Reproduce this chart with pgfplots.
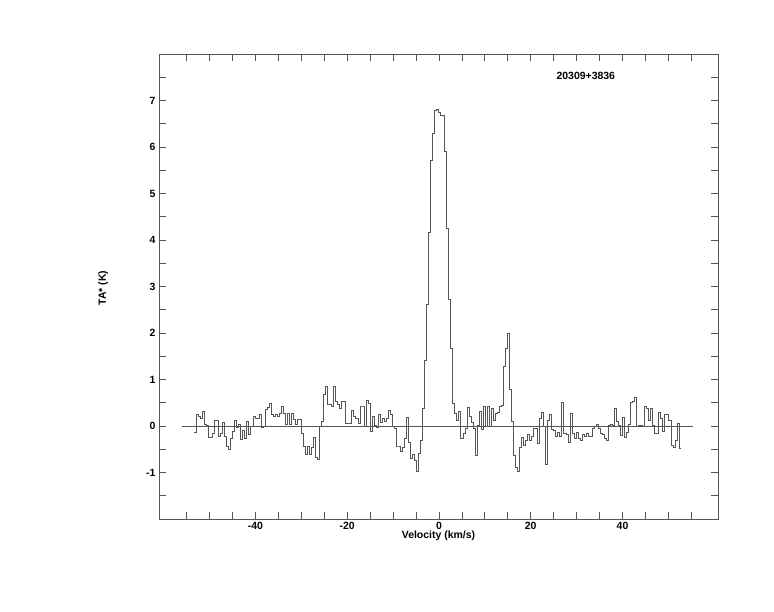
\documentclass[border=0pt]{standalone}
\usepackage{fontspec}
\setmainfont{Liberation Sans}
\usepackage{pgfplots}
\pgfplotsset{compat=1.18}
\definecolor{ink}{RGB}{85,85,85}

\pgfplotstableread{
x y
-53.30 -0.14
-52.86 0.25
-52.42 0.20
-51.98 0.17
-51.54 0.32
-51.10 0.04
-50.66 0.02
-50.22 -0.24
-49.78 -0.24
-49.34 -0.16
-48.90 0.12
-48.46 0.12
-48.02 -0.23
-47.58 -0.16
-47.14 0.08
-46.70 -0.23
-46.26 -0.43
-45.82 -0.50
-45.38 -0.27
-44.94 -0.11
-44.50 0.12
-44.06 -0.03
-43.62 0.04
-43.18 -0.28
-42.74 -0.09
-42.30 -0.27
-41.86 0.09
-41.42 -0.18
-40.98 -0.01
-40.54 0.21
-40.10 0.17
-39.66 0.16
-39.22 0.25
-38.78 -0.04
-38.34 -0.01
-37.90 0.35
-37.46 0.40
-37.02 0.48
-36.58 0.25
-36.14 0.20
-35.70 0.24
-35.26 0.20
-34.82 0.28
-34.38 0.42
-33.94 0.28
-33.50 0.04
-33.06 0.28
-32.62 0.04
-32.18 0.28
-31.74 0.15
-31.30 0.04
-30.86 0.15
-30.42 0.15
-29.98 -0.16
-29.54 -0.43
-29.10 -0.61
-28.66 -0.43
-28.22 -0.61
-27.78 -0.45
-27.34 -0.25
-26.90 -0.68
-26.46 -0.72
-26.02 -0.01
-25.58 0.09
-25.14 0.69
-24.70 0.86
-24.26 0.47
-23.82 0.47
-23.38 0.42
-22.94 0.86
-22.50 0.52
-22.06 0.47
-21.62 0.37
-21.18 0.52
-20.74 0.52
-20.30 0.06
-19.86 0.05
-19.42 0.05
-18.98 0.33
-18.54 0.20
-18.10 0.17
-17.66 0.06
-17.22 0.43
-16.78 0.43
-16.34 -0.01
-15.90 0.56
-15.46 0.49
-15.02 -0.12
-14.58 0.20
-14.14 0.02
-13.70 -0.03
-13.26 0.24
-12.82 0.07
-12.38 0.17
-11.94 0.09
-11.50 0.17
-11.06 0.33
-10.62 0.24
-10.18 0.00
-9.74 -0.05
-9.30 -0.43
-8.86 -0.43
-8.42 -0.55
-7.98 -0.45
-7.54 -0.27
-7.10 0.18
-6.66 -0.35
-6.22 -0.70
-5.78 -0.62
-5.34 -0.75
-4.90 -0.98
-4.46 -0.59
-4.02 -0.30
-3.58 0.38
-3.14 1.42
-2.70 2.62
-2.26 4.17
-1.82 5.72
-1.38 6.29
-0.94 6.79
-0.50 6.81
-0.06 6.74
0.38 6.69
0.82 6.67
1.26 5.90
1.70 4.24
2.14 2.72
2.58 1.67
3.02 0.49
3.46 0.27
3.90 0.13
4.34 0.31
4.78 -0.27
5.22 -0.16
5.66 -0.05
6.10 0.40
6.54 0.20
6.98 0.07
7.42 -0.06
7.86 -0.63
8.30 0.02
8.74 0.31
9.18 -0.08
9.62 0.43
10.06 0.00
10.50 0.42
10.94 0.00
11.38 0.37
11.82 0.13
12.26 0.27
12.70 0.29
13.14 0.42
13.58 0.45
14.02 1.28
14.46 1.67
14.90 2.00
15.34 0.78
15.78 0.09
16.22 -0.63
16.66 -0.88
17.10 -0.98
17.54 -0.45
17.98 -0.25
18.42 -0.42
18.86 -0.30
19.30 -0.19
19.74 -0.30
20.18 -0.23
20.62 -0.05
21.06 -0.06
21.50 -0.37
21.94 0.17
22.38 0.29
22.82 -0.01
23.26 -0.83
23.70 0.13
24.14 0.24
24.58 -0.07
25.02 -0.09
25.46 -0.23
25.90 -0.14
26.34 -0.23
26.78 0.51
27.22 -0.16
27.66 -0.19
28.10 -0.35
28.54 0.27
28.98 -0.16
29.42 -0.27
29.86 -0.14
30.30 -0.27
30.74 -0.30
31.18 -0.18
31.62 -0.23
32.06 -0.16
32.50 -0.23
32.94 -0.23
33.38 -0.05
33.82 -0.01
34.26 0.04
34.70 -0.05
35.14 -0.16
35.58 -0.18
36.02 -0.27
36.46 -0.30
36.90 0.01
37.34 0.04
37.78 0.01
38.22 0.37
38.66 0.09
39.10 0.02
39.54 -0.21
39.98 0.18
40.42 -0.25
40.86 -0.14
41.30 0.04
41.74 0.51
42.18 0.52
42.62 0.61
43.06 0.00
43.50 0.02
43.94 0.02
44.38 -0.01
44.82 0.42
45.26 0.38
45.70 0.13
46.14 0.38
46.58 0.02
47.02 -0.16
47.46 -0.16
47.90 0.29
48.34 0.17
48.78 -0.11
49.22 0.24
49.66 0.24
50.10 0.13
50.54 -0.41
50.98 -0.47
51.42 -0.30
51.86 0.06
52.30 -0.48
52.74 -0.48
}\spectrum

\begin{document}
\begin{tikzpicture}[font=\fontsize{10.5}{12}\selectfont\bfseries]
\path[use as bounding box] (0,0) rectangle (774bp,612bp);
\begin{axis}[
    at={(159bp,93bp)}, anchor=south west,
    scale only axis, width=559bp, height=465bp,
    xmin=-61, xmax=60.8, ymin=-2, ymax=8,
    xtick={-40,-20,0,20,40}, minor xtick={-55,-50,...,55},
    ytick={-1,0,...,7}, minor ytick={-1.5,-1,...,7.5},
    tick align=inside,
    major tick length=7bp, minor tick length=7bp,
    every tick/.style={draw=ink, line width=0.8bp},
    axis line style={draw=ink, line width=0.8bp},
    tick label style={font=\fontsize{10.5}{12}\selectfont\bfseries},
    label style={font=\fontsize{10.5}{12}\selectfont\bfseries},
    /pgf/number format/assume math mode=true,
    xlabel={Velocity (km/s)},
    ylabel={TA* (K)},
    xlabel style={at={(axis description cs:0.5,-0.0366)}, anchor=center},
    ylabel style={at={(axis description cs:-0.1,0.497)}, anchor=center},
    clip=false,
]
% baseline
\addplot[ink, line width=0.8bp] coordinates {(-56,0) (55.3,0)};
% spectrum (histogram, channel left edges)
\addplot[ink, line width=0.8bp, const plot mark left] table {\spectrum};
\node at (axis cs:32.0,7.53) {20309+3836};
\end{axis}
\end{tikzpicture}
\end{document}
